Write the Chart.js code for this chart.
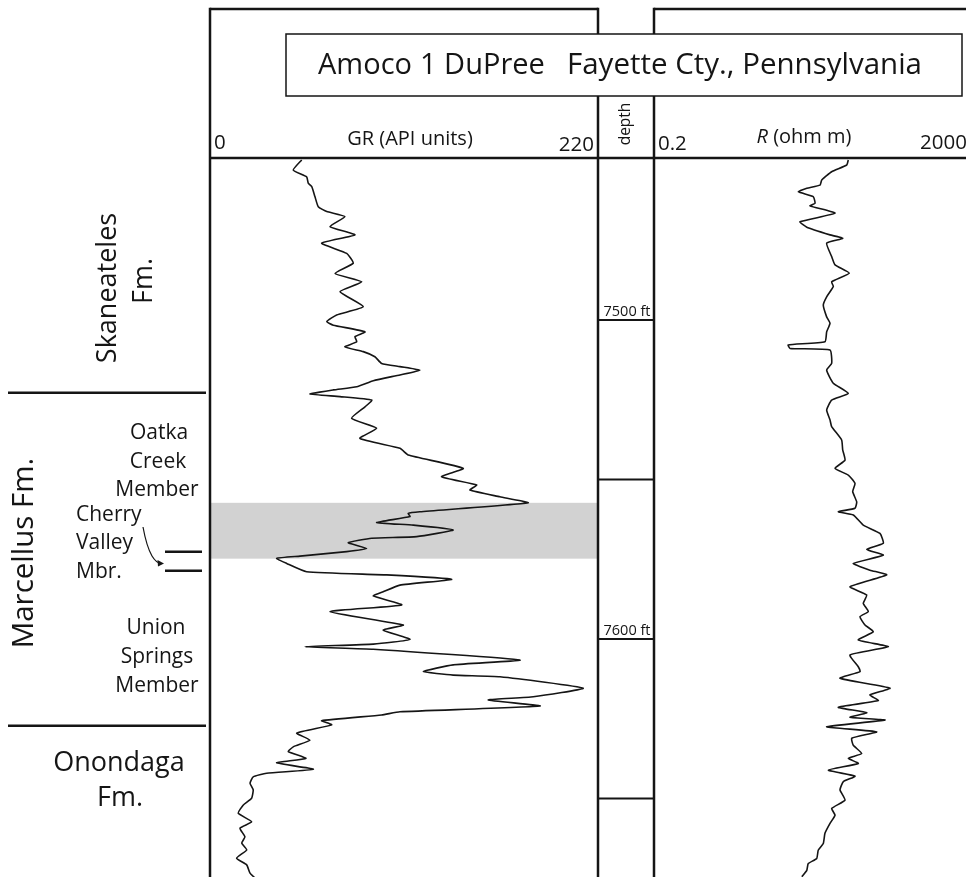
<!DOCTYPE html>
<html><head><meta charset="utf-8">
<script src="https://cdn.jsdelivr.net/npm/chart.js@4.4.0/dist/chart.umd.min.js"></script>
<style>
html,body{margin:0;padding:0;background:#fff;}
#wrap{position:relative;width:966px;height:877px;overflow:hidden;}
#wrap canvas{position:absolute;left:0;top:0;}
</style></head><body>
<div id="wrap"><canvas id="gr" width="966" height="877"></canvas><canvas id="res" width="966" height="877"></canvas></div>
<script>
// ---- data ----
const grDepth = [7449.8,7453.0,7455.1,7457.1,7458.2,7461.3,7464.5,7466.0,7467.6,7470.7,7473.3,7475.9,7479.1,7482.2,7485.4,7488.0,7491.1,7495.8,7498.4,7500.5,7501.6,7503.7,7505.2,7506.8,7508.4,7509.9,7511.5,7513.6,7514.6,7515.7,7517.2,7519.0,7520.9,7521.9,7523.2,7524.0,7525.1,7527.2,7530.8,7533.9,7537.1,7540.2,7542.3,7546.5,7549.1,7551.7,7553.3,7555.4,7557.3,7560.1,7560.6,7561.6,7563.5,7564.3,7565.8,7567.9,7568.4,7569.8,7571.6,7572.6,7574.0,7574.7,7576.3,7578.9,7579.9,7581.3,7583.1,7585.2,7586.5,7589.3,7591.4,7595.6,7597.2,7600.1,7601.6,7602.4,7603.2,7606.6,7608.1,7610.2,7611.3,7611.8,7615.4,7618.1,7619.1,7621.0,7622.8,7623.8,7625.6,7626.9,7629.5,7631.7,7633.8,7635.3,7637.4,7638.8,7640.8,7642.1,7643.2,7645.2,7647.3,7649.9,7652.0,7654.6,7657.3,7659.3,7662.0,7664.0,7666.1,7668.7,7670.8,7673.4,7674.9];
const grValues = [52.0,47.2,54.8,55.7,57.7,59.5,61.4,66.2,76.5,68.0,82.2,63.3,77.5,81.2,70.9,86.0,73.7,86.9,71.8,66.2,69.9,87.9,82.2,83.2,76.5,86.9,93.5,97.3,107.7,119.0,107.7,92.6,83.2,69.9,56.7,73.7,91.7,87.9,80.3,94.5,85.0,107.7,112.4,143.6,131.3,151.2,147.4,164.4,180.4,119.0,112.4,113.4,94.5,115.3,137.9,117.2,91.7,78.4,88.8,77.5,51.0,37.8,43.5,54.8,100.2,137.0,107.7,98.2,92.6,108.7,68.0,109.6,98.2,113.4,92.6,53.9,92.6,175.7,137.9,120.9,137.9,164.4,211.6,183.3,157.8,187.1,107.7,97.3,63.3,69.0,49.2,56.7,47.2,44.4,54.4,37.8,58.6,32.1,24.5,22.7,24.5,23.6,18.9,16.0,23.6,17.0,19.8,18.0,20.8,15.1,20.8,22.7,25.5];
const resDepth = [7449.8,7451.4,7453.5,7456.1,7457.7,7458.7,7459.8,7461.3,7463.4,7464.2,7466.5,7469.2,7470.9,7473.3,7474.4,7475.9,7480.1,7482.7,7485.3,7488.0,7489.5,7492.7,7495.3,7499.0,7501.0,7503.7,7506.8,7507.8,7508.9,7509.4,7513.6,7515.7,7519.8,7523.0,7525.1,7528.2,7531.3,7533.4,7537.6,7540.7,7543.9,7546.5,7548.6,7551.2,7553.8,7557.0,7559.0,7560.1,7561.1,7564.3,7566.9,7570.0,7571.9,7573.7,7576.3,7578.4,7579.9,7583.6,7586.2,7588.8,7591.4,7593.0,7595.6,7597.7,7600.3,7602.4,7605.0,7608.7,7610.2,7612.3,7615.4,7617.5,7619.3,7621.4,7623.1,7624.5,7625.4,7627.5,7629.1,7631.1,7633.3,7635.9,7637.4,7639.0,7641.1,7643.0,7644.7,7647.3,7650.5,7653.1,7655.2,7657.8,7660.9,7664.1,7666.2,7668.8,7670.4,7672.5,7674.5];
const resValues = [61.9,59.2,37.9,28.3,26.9,18.2,14.2,22.0,23.2,20.0,41.9,14.9,18.2,36.1,52.5,32.7,37.9,41.9,63.8,37.9,39.8,32.7,29.6,32.7,36.1,32.7,31.1,10.5,11.1,36.1,37.9,32.7,39.8,61.9,37.9,32.7,36.1,37.9,50.9,52.5,56.2,41.9,61.9,75.5,70.5,79.4,75.5,46.1,71.8,96.4,157.8,174.2,106.7,174.2,71.8,117.5,192.3,65.2,106.7,96.4,111.7,87.5,101.4,129.7,83.2,201.8,65.2,83.2,87.5,48.5,212.3,117.5,150.3,46.1,106.7,65.2,183.1,32.7,143.2,68.6,71.8,92.1,61.9,83.2,34.4,75.5,53.5,48.5,56.2,37.9,41.9,36.1,31.1,29.6,25.5,24.4,19.0,18.2,15.7];
const depthTicks = [7500, 7550, 7600, 7650];
const depthTickLabels = ['7500 ft', '', '7600 ft', ''];
const formationTops = [7522.8, 7627.2];      // top of Marcellus, top of Onondaga
const cherryValleyBand = [7557.3, 7574.8];   // shaded interval
const cherryValleyMarks = [7572.6, 7578.6];
const depthRange = [7449.2, 7674.6];
const grRange = [0, 220];
const resRange = [0.2, 2000];
const grAxisLabels = ['0', 'GR (API units)', '220'];
const resAxisLabels = ['0.2', 'R', ' (ohm m)', '2000'];
const titleParts = ['Amoco', '1 DuPree', 'Fayette Cty., Pennsylvania'];

// ---- drawing helpers ----
const FONT = '"Open Sans", "Noto Sans", "DejaVu Sans", sans-serif';
const INK = '#151515';
function txt(ctx, s, x, y, size, align, opts) {
  opts = opts || {};
  ctx.save();
  ctx.font = (opts.style || '') + ' ' + size + 'px ' + FONT;
  ctx.fillStyle = INK;
  ctx.textAlign = align || 'left';
  ctx.textBaseline = opts.baseline || 'middle';
  if (opts.rot) { ctx.translate(x, y); ctx.rotate(opts.rot); ctx.fillText(s, 0, 0); }
  else ctx.fillText(s, x, y);
  ctx.restore();
}
function line(ctx, x1, y1, x2, y2, w) {
  ctx.save(); ctx.strokeStyle = INK; ctx.lineWidth = w; ctx.lineCap = 'butt';
  ctx.beginPath(); ctx.moveTo(x1, y1); ctx.lineTo(x2, y2); ctx.stroke(); ctx.restore();
}

const decor = {
  id: 'decor',
  beforeDatasetsDraw(chart) {
    const ctx = chart.ctx, ys = chart.scales.y, a = chart.chartArea;
    const y1 = ys.getPixelForValue(cherryValleyBand[0]);
    const y2 = ys.getPixelForValue(cherryValleyBand[1]);
    ctx.save(); ctx.fillStyle = '#d2d2d2';
    ctx.fillRect(a.left, y1, a.right - a.left, y2 - y1); ctx.restore();
  },
  afterDraw(chart) {
    const ctx = chart.ctx, ys = chart.scales.y, a = chart.chartArea;
    const L = a.left, R = a.right, D = 654, E = 966, T = 9, H = a.top, B = 877;
    // track frames
    line(ctx, L, T, R, T, 2.5);
    line(ctx, L, T - 1.2, L, B, 2.5);
    line(ctx, R, T - 1.2, R, B, 2.5);
    line(ctx, D, T - 1.2, D, B, 2.5);
    line(ctx, D, T, E, T, 2.5);
    line(ctx, L, H, E, H, 2.5);
    // depth column ticks
    depthTicks.forEach((t, i) => {
      const y = ys.getPixelForValue(t);
      line(ctx, R, y, D, y, 2);
      if (depthTickLabels[i]) txt(ctx, depthTickLabels[i], (R + D) / 2 + 1, y - 8, 14.5, 'center');
    });
    // header labels
    txt(ctx, grAxisLabels[0], L + 4, 143, 20.5, 'left');
    txt(ctx, grAxisLabels[1], 410, 139, 20, 'center');
    txt(ctx, grAxisLabels[2], R - 4, 145, 20.5, 'right');
    txt(ctx, 'depth', (R + D) / 2, 124, 15.5, 'center', {rot: -Math.PI / 2});
    txt(ctx, resAxisLabels[0], D + 4, 144, 20.5, 'left');
    ctx.save();
    ctx.font = 'italic 20px ' + FONT; const wR = ctx.measureText(resAxisLabels[1]).width;
    ctx.font = '20px ' + FONT; const wU = ctx.measureText(resAxisLabels[2]).width;
    ctx.restore();
    const x0 = 804 - (wR + wU) / 2;
    txt(ctx, resAxisLabels[1], x0, 137, 20, 'left', {style: 'italic'});
    txt(ctx, resAxisLabels[2], x0 + wR, 137, 20, 'left');
    txt(ctx, resAxisLabels[3], E + 1, 143, 20.5, 'right');
    // title box
    ctx.save(); ctx.fillStyle = '#fff'; ctx.fillRect(286, 34, 676, 62);
    ctx.strokeStyle = INK; ctx.lineWidth = 1.5; ctx.strokeRect(286, 34, 676, 62); ctx.restore();
    txt(ctx, titleParts[0], 318, 66, 29, 'left');
    txt(ctx, titleParts[1], 420, 66, 29, 'left');
    txt(ctx, titleParts[2], 567, 66, 29.5, 'left');
    // stratigraphic column
    formationTops.forEach(d => { const y = ys.getPixelForValue(d); line(ctx, 8, y, 206, y, 2.5); });
    cherryValleyMarks.forEach(d => { const y = ys.getPixelForValue(d); line(ctx, 165, y, 202, y, 2.5); });
    txt(ctx, 'Skaneateles', 108, 288, 27, 'center', {rot: -Math.PI / 2});
    txt(ctx, 'Fm.', 144, 281, 27, 'center', {rot: -Math.PI / 2});
    txt(ctx, 'Marcellus Fm.', 25, 553, 29.5, 'center', {rot: -Math.PI / 2});
    txt(ctx, 'Oatka', 159, 433, 21, 'center');
    txt(ctx, 'Creek', 158, 462, 21, 'center');
    txt(ctx, 'Member', 157, 490, 21, 'center');
    txt(ctx, 'Cherry', 76, 515, 21, 'left');
    txt(ctx, 'Valley', 76, 543, 21, 'left');
    txt(ctx, 'Mbr.', 76, 572, 21, 'left');
    txt(ctx, 'Union', 156, 628, 21, 'center');
    txt(ctx, 'Springs', 157, 657, 21, 'center');
    txt(ctx, 'Member', 157, 686, 21, 'center');
    txt(ctx, 'Onondaga', 119, 763, 27, 'center');
    txt(ctx, 'Fm.', 120, 798, 27, 'center');
    // curly arrow
    ctx.save(); ctx.strokeStyle = INK; ctx.lineWidth = 1.2;
    ctx.beginPath(); ctx.moveTo(143, 527);
    ctx.bezierCurveTo(145, 538, 148, 549, 152, 556);
    ctx.bezierCurveTo(155, 561, 158, 563, 161, 563.5);
    ctx.stroke();
    ctx.beginPath(); ctx.moveTo(164, 563.5); ctx.lineTo(157.5, 560); ctx.lineTo(158, 566.5); ctx.closePath();
    ctx.fillStyle = INK; ctx.fill(); ctx.restore();
  }
};

const pts = (ds, vs) => ds.map((d, i) => ({x: vs[i], y: d}));
const common = {
  responsive: false, animation: false, devicePixelRatio: 1,
  plugins: {legend: {display: false}, tooltip: {enabled: false}},
  elements: {point: {radius: 0}},
};

new Chart(document.getElementById('gr'), {
  type: 'scatter',
  data: {datasets: [{data: pts(grDepth, grValues), showLine: true, borderColor: INK, borderWidth: 1.6, tension: 0.15, pointRadius: 0}]},
  options: Object.assign({}, common, {
    layout: {padding: {left: 210, right: 368, top: 158, bottom: 0}},
    scales: {
      x: {type: 'linear', min: grRange[0], max: grRange[1], display: false},
      y: {type: 'linear', min: depthRange[0], max: depthRange[1], reverse: true, display: false}
    }
  }),
  plugins: [decor]
});

new Chart(document.getElementById('res'), {
  type: 'scatter',
  data: {datasets: [{data: pts(resDepth, resValues), showLine: true, borderColor: INK, borderWidth: 1.6, tension: 0.15, pointRadius: 0}]},
  options: Object.assign({}, common, {
    layout: {padding: {left: 654, right: 0, top: 158, bottom: 0}},
    scales: {
      x: {type: 'logarithmic', min: resRange[0], max: resRange[1], display: false},
      y: {type: 'linear', min: depthRange[0], max: depthRange[1], reverse: true, display: false}
    }
  })
});
</script>
</body></html>
